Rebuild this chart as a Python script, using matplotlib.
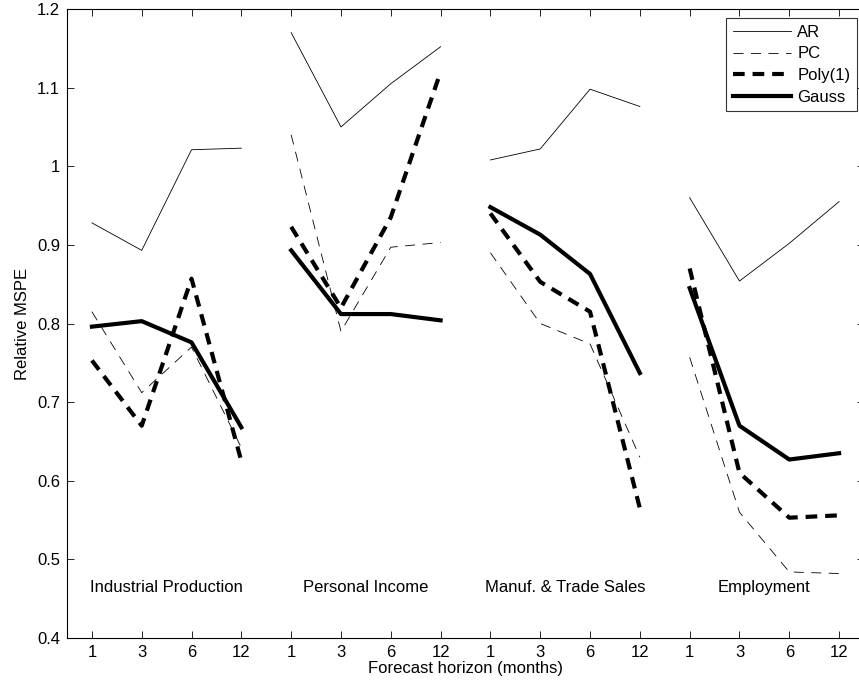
import matplotlib
matplotlib.use("Agg")
import matplotlib.pyplot as plt

plt.rcParams['font.family'] = ['Liberation Sans', 'DejaVu Sans']

# groups and horizons
groups = ['Industrial Production', 'Personal Income', 'Manuf. & Trade Sales', 'Employment']
horizons = ['1', '3', '6', '12']

# relative MSPE, one list per method, one row per group
ar = [[0.928, 0.893, 1.021, 1.023],
      [1.170, 1.050, 1.105, 1.152],
      [1.008, 1.022, 1.098, 1.076],
      [0.960, 0.854, 0.902, 0.955]]
pc = [[0.815, 0.712, 0.770, 0.642],
      [1.040, 0.790, 0.897, 0.903],
      [0.890, 0.800, 0.774, 0.630],
      [0.757, 0.560, 0.484, 0.482]]
poly1 = [[0.753, 0.670, 0.857, 0.625],
         [0.923, 0.820, 0.935, 1.120],
         [0.940, 0.853, 0.815, 0.565],
         [0.870, 0.610, 0.553, 0.556]]
gauss = [[0.796, 0.803, 0.776, 0.668],
         [0.893, 0.812, 0.812, 0.804],
         [0.948, 0.913, 0.863, 0.737],
         [0.845, 0.670, 0.627, 0.635]]

W, H = 859, 690
fs = 12
fig = plt.figure(figsize=(W / 100, H / 100), dpi=100)
ax = fig.add_axes([67 / W, (H - 638) / H, (864 - 67) / W, (638 - 9) / H])

styles = [
    ('AR', ar, dict(color='k', lw=0.6, ls='-')),
    ('PC', pc, dict(color='k', lw=0.6, ls=(0, (12, 9)))),
    ('Poly(1)', poly1, dict(color='k', lw=3.0, ls=(0, (2.8, 1.9)))),
    ('Gauss', gauss, dict(color='k', lw=3.0, ls='-')),
]

for name, data, st in styles:
    for g in range(len(groups)):
        x = [g * 4 + i + 1 for i in range(4)]
        ax.plot(x, data[g], label=name if g == 0 else None, **st)

# series names under each block
for g, gname in enumerate(groups):
    ax.text(g * 4 + 2.5, 0.464, gname, ha='center', va='center', fontsize=fs)

ax.set_xlim(0.5, 16.5)
ax.set_ylim(0.4, 1.2)
ax.set_xticks(range(1, 17))
ax.set_xticklabels(horizons * 4)
ax.set_yticks([0.4, 0.5, 0.6, 0.7, 0.8, 0.9, 1.0, 1.1, 1.2])
ax.set_yticklabels(['0.4', '0.5', '0.6', '0.7', '0.8', '0.9', '1', '1.1', '1.2'])
ax.tick_params(direction='in', top=True, right=True, length=5, width=0.6,
               labelsize=fs, pad=5)
for sp in ax.spines.values():
    sp.set_linewidth(0.8)

ax.set_xlabel('Forecast horizon (months)', fontsize=fs, labelpad=1)
ax.set_ylabel('Relative MSPE', fontsize=fs, labelpad=5)

ax_w = 864 - 67
ax_h = 638 - 9
leg = ax.legend(loc='upper right', bbox_to_anchor=((857 - 67) / ax_w, (638 - 18) / ax_h),
                fontsize=fs, frameon=True, fancybox=False, edgecolor='k',
                handlelength=3.5, handletextpad=0.35, borderpad=0.4, labelspacing=0.4,
                borderaxespad=0)
leg.get_frame().set_linewidth(0.8)

fig.savefig('out.png', dpi=100)
